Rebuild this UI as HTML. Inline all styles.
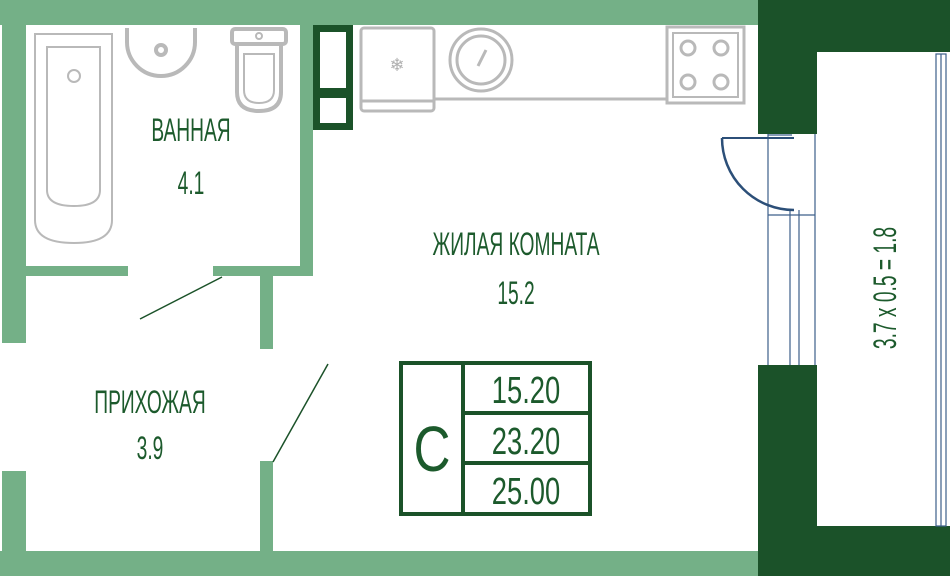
<!DOCTYPE html>
<html><head><meta charset="utf-8"><style>
html,body{margin:0;padding:0;background:#fff;}
svg{display:block}
text{font-family:"Liberation Sans Narrow","Liberation Sans",sans-serif;fill:#1c5a2c;}
</style></head><body>
<svg width="950" height="576" viewBox="0 0 950 576" xmlns="http://www.w3.org/2000/svg">
<g fill="#74b087">
<rect x="0" y="0" width="758" height="25"/>
<rect x="2" y="0" width="24" height="343"/>
<rect x="2" y="471" width="24" height="105"/>
<rect x="0" y="551" width="758" height="25"/>
<rect x="300" y="25" width="13" height="251"/>
<rect x="26" y="266" width="102" height="10"/>
<rect x="213" y="266" width="100" height="10"/>
<rect x="260" y="266" width="13" height="83"/>
<rect x="260" y="461" width="13" height="90"/>
</g>
<g fill="#1b5229">
<rect x="758" y="0" width="192" height="52"/>
<rect x="758" y="0" width="59" height="134"/>
<rect x="758" y="365" width="59" height="211"/>
<rect x="758" y="526" width="192" height="50"/>
<rect x="313" y="25" width="40" height="105"/>
</g>
<rect x="320" y="32" width="26" height="56" fill="#fff"/>
<rect x="320" y="98" width="26" height="25" fill="#fff"/>
<g stroke="#3d5f8a" stroke-width="1.2" fill="none">
<line x1="768" y1="134" x2="768" y2="365"/>
<line x1="815" y1="134" x2="815" y2="365"/>
<line x1="790" y1="210" x2="790" y2="365"/>
<line x1="799" y1="210" x2="799" y2="365"/>
<line x1="768" y1="215" x2="815" y2="215"/>
<line x1="768" y1="135" x2="792" y2="135"/>
<rect x="936" y="54" width="10" height="472"/>
<line x1="941" y1="54" x2="941" y2="526"/>
</g>
<path d="M722 138 A72 72 0 0 0 794 210" stroke="#2c4f78" stroke-width="2.5" fill="none"/>
<line x1="722" y1="138" x2="794" y2="138" stroke="#2c4f78" stroke-width="2"/>
<g stroke="#b9b9b9" stroke-width="3" fill="none">
<line x1="434" y1="99" x2="668" y2="99"/>
<rect x="361" y="28" width="73" height="83" rx="3"/>
<line x1="361" y1="101" x2="434" y2="101"/>
<circle cx="481" cy="60" r="31"/>
<circle cx="481" cy="60" r="24"/>
<line x1="478" y1="66" x2="486" y2="50"/>
<rect x="667" y="27" width="77" height="76"/>
<rect x="673" y="33" width="65" height="64" stroke-width="2"/>
<circle cx="688" cy="48" r="7"/><circle cx="721" cy="48" r="7"/>
<circle cx="688" cy="82" r="7"/><circle cx="721" cy="82" r="7"/>
</g>
<text x="397" y="71" font-size="18" text-anchor="middle" style="fill:#b0b0b0">❄</text>
<g stroke="#b9b9b9" fill="none">
<path d="M35 34 H112 V220 Q112 243 74 243 Q35 243 35 220 Z" stroke-width="2"/>
<path d="M47 47 H100 V190 Q100 206 74 206 Q47 206 47 190 Z" stroke-width="2"/>
<circle cx="74" cy="76" r="6" stroke-width="2"/>
<path d="M127 28 V42 A34 34 0 0 0 195 42 V28" stroke-width="4"/>
<circle cx="161" cy="50" r="5" stroke-width="4"/>
<rect x="232" y="29" width="54" height="15" rx="3" stroke-width="4"/>
<path d="M237 44 V92 Q237 111 259 111 Q281 111 281 92 V44" stroke-width="4"/>
<path d="M244 54 H274 V90 Q274 103 259 103 Q244 103 244 90 Z" stroke-width="2"/>
<circle cx="259" cy="36" r="3" stroke-width="2"/>
</g>
<line x1="140" y1="319" x2="222" y2="277" stroke="#1b5229" stroke-width="1.5"/>
<line x1="273" y1="462" x2="328" y2="364" stroke="#1b5229" stroke-width="1.5"/>
<g stroke="#1b5229" stroke-width="4" fill="none">
<rect x="401" y="363" width="189" height="151"/>
<line x1="463" y1="363" x2="463" y2="514"/>
<line x1="463" y1="413" x2="590" y2="413"/>
<line x1="463" y1="463" x2="590" y2="463"/>
</g>
<text x="432" y="471" font-size="64" text-anchor="middle" transform="translate(432 0) scale(0.8 1) translate(-432 0)">C</text>
<g font-size="38" text-anchor="middle">
<text x="526" y="403" transform="translate(526 0) scale(0.72 1) translate(-526 0)">15.20</text>
<text x="526" y="454" transform="translate(526 0) scale(0.72 1) translate(-526 0)">23.20</text>
<text x="526" y="504" transform="translate(526 0) scale(0.72 1) translate(-526 0)">25.00</text>
</g>
<g font-size="32" text-anchor="middle">
<text x="191" y="141" transform="translate(191 0) scale(0.6 1) translate(-191 0)">ВАННАЯ</text>
<text x="191" y="194" transform="translate(191 0) scale(0.6 1) translate(-191 0)">4.1</text>
<text x="516" y="255" transform="translate(516 0) scale(0.6 1) translate(-516 0)">ЖИЛАЯ КОМНАТА</text>
<text x="516" y="304" transform="translate(516 0) scale(0.6 1) translate(-516 0)">15.2</text>
<text x="150" y="413" transform="translate(150 0) scale(0.6 1) translate(-150 0)">ПРИХОЖАЯ</text>
<text x="150" y="459" transform="translate(150 0) scale(0.6 1) translate(-150 0)">3.9</text>
<text transform="translate(896 288) rotate(-90) scale(0.6 1)" x="0" y="0" text-anchor="middle">3.7 x 0.5 = 1.8</text>
</g>
</svg>
</body></html>
